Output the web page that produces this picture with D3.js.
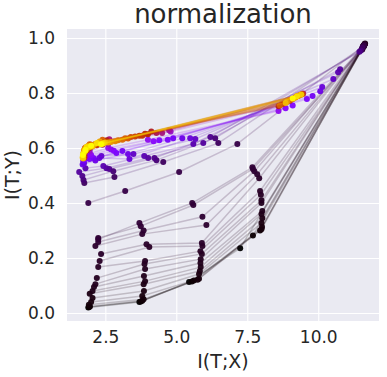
<!DOCTYPE html>
<html><head><meta charset="utf-8">
<script src="https://cdn.jsdelivr.net/npm/d3@7"></script>
<style>html,body{margin:0;padding:0;background:#fff;}svg{display:block;font-family:"DejaVu Sans",sans-serif;}</style>
</head><body><div id="chart"></div>
<script>
// Colour value of each epoch (0 = first epoch, 1 = last), gnuplot colormap
const epochColor = [0.000,0.002,0.004,0.006,0.008,0.010,0.012,0.014,0.016,0.018,0.020,0.022,0.024,0.026,0.028,0.030,0.032,0.034,
  0.045,0.060,0.075,0.090,0.105,0.120,
  0.14,0.16,0.18,0.20,0.22,0.25,0.28,0.31,
  0.36,0.39,0.42,0.45,0.48,0.51,0.54,0.57,0.60,0.63,0.66,0.69,0.72,0.75,0.78,0.81,0.84,0.87,0.90,0.93,0.96,1.00];
// Layer 1
const layer1X = [11.62,11.60,11.64,11.58,11.62,11.60,11.65,11.55,11.62,11.58,11.62,11.55,11.60,11.64,11.58,11.62,11.55,11.60,
  11.60,11.55,11.50,11.45,10.77,10.70,
  10.53,10.14,10.07,9.80,9.60,9.10,8.85,8.60,
  8.70,8.80,9.47,9.30,8.60,9.00,9.40,9.20,8.75,9.10,9.45,9.25,8.65,9.00,9.35,9.30,8.90,9.20,8.85,9.40,9.25,9.10];
const layer1Y = [0.975,0.972,0.978,0.970,0.975,0.968,0.980,0.962,0.975,0.970,0.976,0.960,0.972,0.978,0.968,0.975,0.958,0.970,
  0.972,0.965,0.955,0.950,0.887,0.876,
  0.851,0.822,0.807,0.789,0.778,0.755,0.745,0.735,
  0.758,0.765,0.798,0.790,0.752,0.772,0.795,0.785,0.760,0.778,0.797,0.788,0.755,0.775,0.792,0.790,0.768,0.784,0.764,0.795,0.788,0.780];
// Layer 2
const layer2X = [7.25,7.70,7.95,8.00,8.02,8.00,8.03,8.00,8.03,8.00,8.00,7.98,7.95,7.92,7.85,7.75,7.70,7.68,
  7.15,6.48,6.37,6.20,5.95,5.60,
  5.67,5.49,5.21,4.89,4.70,4.40,4.20,4.00,
  4.80,4.75,4.50,4.30,4.12,4.00,3.90,3.80,3.70,3.55,3.40,3.30,3.20,3.10,2.95,2.85,2.70,2.60,2.50,2.45,2.40,2.35];
const layer2Y = [0.236,0.282,0.300,0.305,0.313,0.327,0.345,0.360,0.371,0.400,0.410,0.430,0.444,0.490,0.505,0.516,0.524,0.530,
  0.615,0.618,0.636,0.640,0.618,0.615,
  0.633,0.636,0.636,0.636,0.630,0.628,0.625,0.630,
  0.660,0.665,0.655,0.655,0.660,0.650,0.652,0.645,0.645,0.642,0.640,0.635,0.636,0.630,0.628,0.625,0.622,0.620,0.620,0.618,0.616,0.614];
// Layer 3
const layer3X = [5.45,5.55,5.62,5.75,5.80,5.80,5.83,5.86,5.85,5.86,5.90,5.85,5.92,5.90,6.06,5.92,5.60,5.56,
  5.10,4.54,4.30,4.23,4.01,3.87,
  3.49,3.35,3.30,3.10,2.89,2.80,2.70,2.60,
  2.60,2.50,2.64,2.40,2.55,2.30,2.50,2.45,2.20,2.35,2.10,2.25,2.40,2.05,2.15,2.00,2.10,2.30,2.05,1.95,2.20,2.00];
const layer3Y = [0.113,0.115,0.118,0.121,0.125,0.142,0.153,0.167,0.182,0.196,0.215,0.225,0.244,0.255,0.320,0.350,0.393,0.400,
  0.513,0.549,0.556,0.564,0.564,0.571,
  0.578,0.560,0.578,0.589,0.582,0.590,0.595,0.600,
  0.615,0.620,0.632,0.612,0.628,0.615,0.625,0.620,0.610,0.622,0.612,0.618,0.630,0.610,0.615,0.608,0.612,0.624,0.606,0.604,0.618,0.608];
// Layer 4
const layer4X = [3.70,3.75,3.80,3.85,3.80,3.86,3.85,3.90,3.86,3.90,3.88,3.90,4.05,3.95,3.80,3.85,3.75,3.70,
  3.20,2.82,2.78,2.64,2.54,2.43,
  2.36,2.29,2.15,2.08,1.94,1.83,2.00,1.95,
  1.95,1.90,2.05,1.95,2.00,1.90,2.00,1.92,1.85,1.95,1.90,1.88,1.95,1.85,1.82,1.80,1.85,1.90,1.80,1.78,1.84,1.80];
const layer4Y = [0.040,0.042,0.045,0.050,0.062,0.080,0.105,0.116,0.135,0.160,0.178,0.189,0.240,0.250,0.287,0.300,0.316,0.327,
  0.444,0.495,0.516,0.524,0.527,0.535,
  0.571,0.564,0.555,0.564,0.560,0.564,0.575,0.580,
  0.590,0.598,0.610,0.600,0.605,0.598,0.612,0.602,0.592,0.610,0.600,0.606,0.614,0.596,0.603,0.594,0.600,0.608,0.590,0.588,0.604,0.593];
// Layer 5
const layer5X = [1.90,1.93,1.96,1.92,2.00,2.05,1.95,2.05,2.10,2.15,2.20,2.25,2.30,2.35,2.15,2.25,2.25,2.25,
  1.90,1.76,1.73,1.69,1.58,1.80,
  1.83,1.75,1.70,1.72,1.75,1.78,1.80,1.78,
  1.78,1.75,1.80,1.78,1.76,1.75,1.80,1.77,1.76,1.78,1.74,1.76,1.79,1.73,1.75,1.72,1.74,1.76,1.72,1.70,1.73,1.71];
const layer5Y = [0.020,0.022,0.024,0.030,0.040,0.055,0.070,0.080,0.095,0.105,0.127,0.167,0.189,0.215,0.244,0.258,0.273,0.268,
  0.400,0.473,0.484,0.498,0.513,0.527,
  0.564,0.545,0.540,0.553,0.558,0.560,0.565,0.570,
  0.570,0.580,0.588,0.590,0.575,0.585,0.596,0.586,0.565,0.598,0.585,0.592,0.600,0.572,0.590,0.568,0.582,0.594,0.562,0.566,0.580,0.575];

const xTicks = [2.5, 5.0, 7.5, 10.0];
const yTicks = [0.0, 0.2, 0.4, 0.6, 0.8, 1.0];
const titleText = "normalization";
const xLabel = "I(T;X)";
const yLabel = "I(T;Y)";

const W = 387, H = 377;
const L = 67, R = 379, T = 29, B = 321;
const x = d3.scaleLinear().domain([1.15, 12.14]).range([L, R]);
const y = d3.scaleLinear().domain([-0.029, 1.033]).range([B, T]);

function gnuplot(c) {
  const r = Math.sqrt(c), g = Math.pow(c, 3), b = Math.max(0, Math.min(1, Math.sin(2 * Math.PI * c)));
  return d3.rgb(r * 255, g * 255, b * 255).formatHex();
}

const svg = d3.select("#chart").append("svg").attr("width", W).attr("height", H);
svg.append("rect").attr("x", L).attr("y", T).attr("width", R - L).attr("height", B - T).attr("fill", "#EAEAF2");

const gx = svg.append("g").attr("transform", `translate(0,${B})`)
  .call(d3.axisBottom(x).tickValues(xTicks).tickSize(-(B - T)).tickPadding(10).tickFormat(d3.format(".1f")));
const gy = svg.append("g").attr("transform", `translate(${L},0)`)
  .call(d3.axisLeft(y).tickValues(yTicks).tickSize(-(R - L)).tickPadding(12).tickFormat(d3.format(".1f")));
[gx, gy].forEach(g => {
  g.select(".domain").remove();
  g.selectAll(".tick line").attr("stroke", "#ffffff").attr("stroke-width", 1.1);
  g.selectAll(".tick text").attr("fill", "#262626").attr("font-size", 17).attr("font-family", "DejaVu Sans");
});

const epochs = epochColor.map((c, i) => ({
  c,
  pts: [[layer1X[i], layer1Y[i]], [layer2X[i], layer2Y[i]], [layer3X[i], layer3Y[i]], [layer4X[i], layer4Y[i]], [layer5X[i], layer5Y[i]]]
}));

const plot = svg.append("g");
const line = d3.line().x(d => x(d[0])).y(d => y(d[1]));
epochs.forEach(e => {
  const col = gnuplot(e.c);
  plot.append("path").attr("d", line(e.pts)).attr("fill", "none")
    .attr("stroke", col).attr("stroke-opacity", 0.2).attr("stroke-width", 1.5);
  plot.selectAll(null).data(e.pts).enter().append("circle")
    .attr("cx", d => x(d[0])).attr("cy", d => y(d[1])).attr("r", 3)
    .attr("fill", col).attr("fill-opacity", 0.95);
});

svg.append("text").attr("x", (L + R) / 2).attr("y", 23).attr("text-anchor", "middle")
  .attr("font-size", 26).attr("fill", "#262626").text(titleText);
svg.append("text").attr("x", (L + R) / 2).attr("y", 368).attr("text-anchor", "middle")
  .attr("font-size", 19).attr("fill", "#262626").text(xLabel);
svg.append("text").attr("transform", `translate(19,${(T + B) / 2}) rotate(-90)`).attr("text-anchor", "middle")
  .attr("font-size", 19).attr("fill", "#262626").text(yLabel);
</script></body></html>
